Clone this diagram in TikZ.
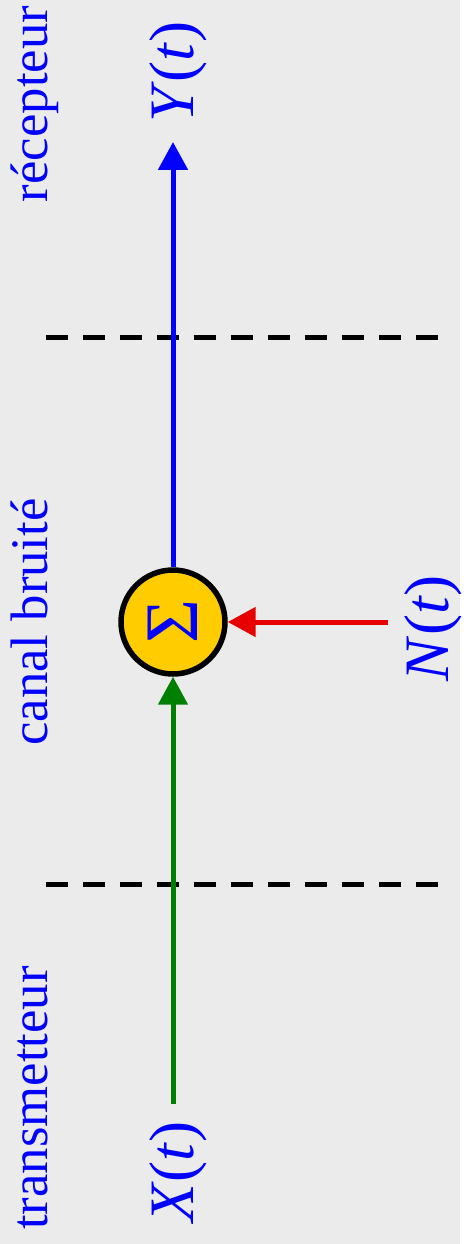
\documentclass[tikz,border=0pt]{standalone}
\usepackage{fontspec}
\setmainfont{Liberation Serif}
\usetikzlibrary{arrows.meta}
\definecolor{bgGray}{RGB}{235,235,235}
\definecolor{sumYellow}{RGB}{255,204,0}
\definecolor{sigGreen}{RGB}{0,128,0}
\definecolor{sigRed}{RGB}{230,0,0}
\begin{document}
\begin{tikzpicture}[x=0.02cm, y=-0.02cm,
    sig/.style={line width=0.1cm, -{Triangle[length=0.56cm,width=0.58cm]}},
    sep/.style={black, line width=0.1cm, dash pattern=on 0.434cm off 0.306cm},
    lbl/.style={blue, rotate=90, anchor=base, font=\fontsize{30}{36}\selectfont},
    sigl/.style={blue, rotate=90, anchor=base, font=\fontsize{36}{43}\selectfont},
    sumnode/.style={circle, draw=black, fill=sumYellow, line width=0.11cm,
        minimum size=2.08cm, inner sep=0pt, text=blue, font=\fontsize{43}{50}\selectfont}]
    % Background
    \fill[bgGray] (0,0) rectangle (460,1244);
    
    % Stage separators
    \coordinate (s1l) at (46,337);
    \coordinate (s1r) at (438,337);
    \coordinate (s2l) at (46,884);
    \coordinate (s2r) at (438,884);
    \draw[sep] (s1l) -- (s1r);
    \draw[sep] (s2l) -- (s2r);
    
    % Stage labels
    \node[lbl] (rec) at (48,104) {récepteur};
    \node[lbl] (can) at (48,622) {canal bruité};
    \node[lbl] (tra) at (48,1098) {transmetteur};
    
    % Adder and signals
    \node[sumnode] (sum) at (173,622) {\rotatebox{90}{Σ}};
    \coordinate (xin) at (173,1104);
    \coordinate (yout) at (173,142);
    \coordinate (nin) at (388,622);
    
    \draw[sig, sigGreen] (xin) -- (sum);
    \draw[sig, blue] (sum) -- (yout);
    \draw[sig, sigRed] (nin) -- (sum);
    
    \node[sigl] (xl) at (193,1172) {\textit{X}(\textit{t})};
    \node[sigl] (yl) at (193,72) {\textit{Y}(\textit{t})};
    \node[sigl] (nl) at (448,628) {\textit{N}(\textit{t})};
\end{tikzpicture}
\end{document}
